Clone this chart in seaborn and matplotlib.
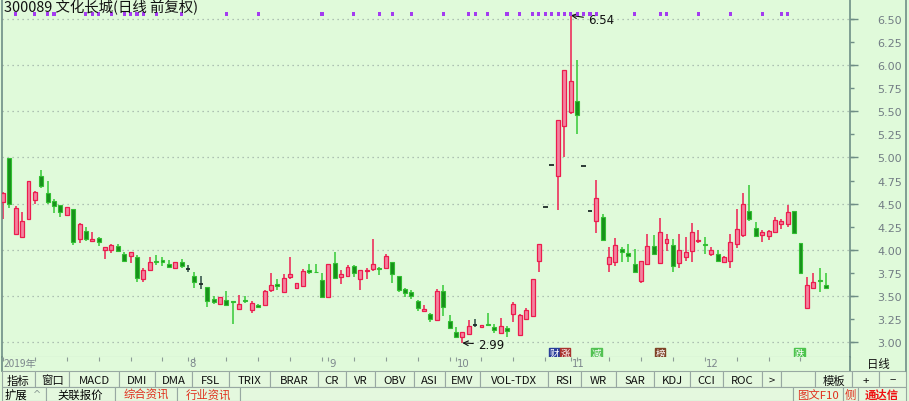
import numpy as np
import pandas as pd
import matplotlib
matplotlib.use("Agg")
import matplotlib.pyplot as plt
import seaborn as sns
from matplotlib.patches import Rectangle
import warnings
warnings.filterwarnings("ignore")

# ── Global Style ─────────────────────────────────────────────
sns.set_theme(style="white")
plt.rcParams["font.family"] = ["Noto Sans CJK SC", "DejaVu Sans"]
plt.rcParams["axes.unicode_minus"] = False

# ── Data (300089 daily, forward adjusted) ────────────────────
opens = [4.52, 4.99, 4.17, 4.14, 4.33, 4.54, 4.80, 4.62, 4.53, 4.48,
         4.38, 4.44, 4.12, 4.20, 4.10, 4.13, 4.00, 4.00, 4.04, 3.955,
         3.93, 3.925, 3.68, 3.785, 3.88, 3.89, 3.85, 3.80, 3.865, 3.79,
         3.72, 3.63, 3.595, 3.47, 3.41, 3.46, 3.44, 3.36, 3.46, 3.35,
         3.40, 3.405, 3.56, 3.63, 3.545, 3.71, 3.59, 3.61, 3.785, 3.76,
         3.67, 3.49, 3.855, 3.71, 3.72, 3.82, 3.68, 3.765, 3.79, 3.80,
         3.80, 3.865, 3.72, 3.575, 3.54, 3.44, 3.34, 3.305, 3.24, 3.55,
         3.23, 3.105, 3.05, 3.085, 3.18, 3.165, 3.195, 3.165, 3.10, 3.15,
         3.305, 3.075, 3.25, 3.285, 3.88, 4.46, 4.92, 4.80, 5.34, 5.49,
         5.61, 4.91, 4.42, 4.31, 4.35, 3.85, 3.865, 4.01, 3.97, 3.85,
         3.66, 3.85, 4.04, 3.855, 4.07, 4.05, 3.855, 3.92, 3.99, 4.10,
         4.06, 3.955, 3.955, 3.87, 3.875, 4.06, 4.16, 4.42, 4.24, 4.16,
         4.145, 4.19, 4.28, 4.275, 4.42, 4.07, 3.365, 3.59, 3.675, 3.62]

highs = [4.63, 4.99, 4.47, 4.41, 4.75, 4.64, 4.86, 4.74, 4.55, 4.49,
         4.46, 4.44, 4.29, 4.25, 4.19, 4.14, 4.03, 4.06, 4.06, 3.975,
         3.98, 3.94, 3.80, 3.92, 3.94, 3.92, 3.89, 3.87, 3.90, 3.83,
         3.755, 3.72, 3.60, 3.50, 3.49, 3.55, 3.44, 3.51, 3.50, 3.44,
         3.41, 3.56, 3.745, 3.68, 3.74, 3.92, 3.64, 3.79, 3.845, 3.845,
         3.745, 3.85, 3.98, 3.78, 3.84, 3.835, 3.78, 3.80, 4.12, 3.815,
         3.95, 3.87, 3.72, 3.59, 3.56, 3.455, 3.40, 3.32, 3.57, 3.62,
         3.29, 3.165, 3.11, 3.24, 3.245, 3.19, 3.31, 3.20, 3.26, 3.17,
         3.43, 3.30, 3.37, 3.68, 4.06, 4.46, 4.92, 5.41, 5.95, 6.54,
         6.06, 4.91, 4.42, 4.755, 4.39, 4.03, 4.13, 4.035, 4.06, 4.01,
         3.88, 4.17, 4.16, 4.34, 4.17, 4.12, 4.17, 4.135, 4.29, 4.21,
         4.135, 4.03, 4.00, 3.93, 4.17, 4.44, 4.62, 4.70, 4.30, 4.21,
         4.215, 4.36, 4.33, 4.48, 4.42, 4.07, 3.70, 3.745, 3.80, 3.745]

lows = [4.33, 4.45, 4.17, 4.14, 4.33, 4.50, 4.67, 4.50, 4.40, 4.35,
        4.37, 4.05, 4.07, 4.09, 4.08, 4.04, 3.90, 3.97, 3.98, 3.87,
        3.86, 3.655, 3.65, 3.775, 3.84, 3.82, 3.80, 3.79, 3.80, 3.757,
        3.59, 3.575, 3.38, 3.41, 3.40, 3.39, 3.20, 3.35, 3.42, 3.32,
        3.37, 3.40, 3.54, 3.565, 3.54, 3.68, 3.58, 3.60, 3.74, 3.75,
        3.485, 3.475, 3.68, 3.63, 3.71, 3.70, 3.565, 3.68, 3.775, 3.73,
        3.79, 3.64, 3.54, 3.485, 3.47, 3.34, 3.33, 3.22, 3.23, 3.28,
        3.15, 3.05, 2.99, 3.075, 3.16, 3.16, 3.17, 3.10, 3.10, 3.06,
        3.215, 3.075, 3.235, 3.285, 3.755, 4.46, 4.92, 4.43, 5.00, 5.47,
        5.255, 4.91, 4.42, 4.18, 4.10, 3.755, 3.82, 3.865, 3.865, 3.755,
        3.64, 3.83, 3.94, 3.845, 3.99, 3.76, 3.80, 3.875, 3.87, 4.07,
        3.955, 3.93, 3.87, 3.86, 3.80, 4.02, 4.135, 4.315, 4.145, 4.08,
        4.11, 4.18, 4.23, 4.25, 4.18, 3.75, 3.365, 3.58, 3.545, 3.575]

closes = [4.62, 4.50, 4.45, 4.31, 4.74, 4.63, 4.69, 4.52, 4.47, 4.41,
          4.46, 4.08, 4.28, 4.12, 4.12, 4.08, 4.03, 4.05, 3.99, 3.88,
          3.975, 3.69, 3.78, 3.865, 3.865, 3.87, 3.81, 3.865, 3.82, 3.79,
          3.655, 3.63, 3.44, 3.43, 3.485, 3.40, 3.43, 3.415, 3.44, 3.42,
          3.385, 3.55, 3.62, 3.605, 3.69, 3.735, 3.635, 3.767, 3.755, 3.755,
          3.49, 3.845, 3.69, 3.735, 3.81, 3.745, 3.78, 3.785, 3.845, 3.79,
          3.935, 3.74, 3.565, 3.53, 3.50, 3.37, 3.36, 3.245, 3.555, 3.38,
          3.155, 3.06, 3.105, 3.17, 3.18, 3.18, 3.185, 3.13, 3.17, 3.125,
          3.41, 3.29, 3.35, 3.68, 4.06, 4.46, 4.92, 5.41, 5.95, 5.83,
          5.46, 4.91, 4.42, 4.56, 4.11, 3.92, 4.05, 3.98, 3.93, 3.76,
          3.88, 4.04, 3.955, 4.19, 4.12, 3.82, 4.00, 3.98, 4.19, 4.11,
          4.05, 4.00, 3.88, 3.92, 4.08, 4.23, 4.50, 4.33, 4.15, 4.19,
          4.205, 4.325, 4.31, 4.41, 4.18, 3.75, 3.62, 3.655, 3.665, 3.59]

# month labels and the bar index where each month starts
month_labels = ["2019年", "8", "9", "10", "11", "12"]
month_starts = [0, 29, 51, 71, 89, 110]

# right axis price labels and dotted grid levels
price_ticks = [3.00, 3.25, 3.50, 3.75, 4.00, 4.25, 4.50, 4.75,
               5.00, 5.25, 5.50, 5.75, 6.00, 6.25, 6.50]
grid_levels = [3.00, 3.50, 4.00, 4.50, 5.00, 5.50, 6.00, 6.50]

# purple info markers along the top
info_days = [2, 5, 7, 8, 13, 14, 15, 17, 19, 20, 21, 22, 24, 28, 35, 40,
             50, 55, 59, 61, 64, 69, 73, 74, 76, 79, 81, 83, 84, 85, 86,
             87, 88, 89, 90, 91, 92, 93, 99, 103, 104, 109, 114, 119, 122, 123]

# event tags under the candles
event_days = [86.4, 88.1, 93.0, 103.0, 124.8]
event_text = ["财", "涨", "减", "榜", "跌"]
event_color = ["#2A3E9A", "#A8322E", "#52C252", "#7E4326", "#4CC44C"]

# toolbars
row1_labels = ["指标", "窗口", "MACD", "DMI", "DMA", "FSL", "TRIX", "BRAR", "CR",
               "VR", "OBV", "ASI", "EMV", "VOL-TDX", "RSI", "WR", "SAR", "KDJ",
               "CCI", "ROC", ">", "", "模板", "+", "−"]
row1_edges = [2, 35, 69, 119, 155, 192, 229, 270, 318, 346, 375, 414, 445,
              480, 548, 581, 616, 654, 690, 723, 762, 781, 815, 852, 879, 906]
row2_labels = ["扩展", "关联报价", "综合资讯", "行业资讯", "", "图文F10", "侧", "通达信"]
row2_edges = [2, 46, 115, 177, 240, 793, 843, 858, 906]
row2_colors = ["black", "black", "#E0301E", "#E0301E", "black", "#E0301E",
               "#E0301E", "#F01010"]

df = pd.DataFrame({"day": np.arange(len(opens)), "open": opens,
                   "high": highs, "low": lows, "close": closes})
df["kind"] = np.where(df["close"] > df["open"], "up",
                      np.where(df["close"] < df["open"], "down", "flat"))

# ── Figure ───────────────────────────────────────────────────
W, H = 909, 402
BG = "#E0FADA"
LINE = "#6F8E86"
XLIM = (-0.157, 132.76)
fig = plt.figure(figsize=(W / 100, H / 100), dpi=100, facecolor=BG)


def fx(x):
    return x / W


def fy(y):
    return 1 - y / H


ax = fig.add_axes([fx(2), fy(358), (850 - 2) / W, 358 / H])
ax.set_facecolor(BG)
ax.set_xlim(*XLIM)
ax.set_ylim(2.838, 6.717)

# dotted grid
for lv in grid_levels:
    ax.axhline(lv, color="#9DAFA6", lw=0.9, ls=(0, (1, 3)), zorder=1)

# wicks
wick_col = {"up": "#EE2052", "down": "#35C935", "flat": "#2E4A44"}
for k, g in df.groupby("kind"):
    ax.vlines(g["day"], g["low"], g["high"], color=wick_col[k], lw=1.1, zorder=2)

# bodies
up = df[df["kind"] == "up"]
ax.bar(up["day"], up["close"] - up["open"], bottom=up["open"], width=0.62,
       facecolor="#F3829F", edgecolor="#EC1C4E", linewidth=0.9, zorder=3)
dn = df[df["kind"] == "down"]
ax.bar(dn["day"], dn["open"] - dn["close"], bottom=dn["close"], width=0.62,
       facecolor="#18901B", edgecolor="#32BF32", linewidth=0.8, zorder=3)
fl = df[df["kind"] == "flat"]
ax.hlines(fl["close"], fl["day"] - 0.35, fl["day"] + 0.35, color="#1E2A28",
          lw=1.3, zorder=3)

# info markers
sns.scatterplot(x=info_days, y=[6.554] * len(info_days), ax=ax, marker="s",
                s=5, color="#A43CF0", edgecolor="none", zorder=4, legend=False)

# high / low annotations
hi_i = int(np.argmax(highs))
lo_i = int(np.argmin(lows))
ax.annotate(f"{highs[hi_i]:.2f}", xy=(hi_i, highs[hi_i]), xytext=(hi_i + 2.7, 6.49),
            fontsize=8.5, color="#111111", va="center", ha="left",
            family=["DejaVu Sans"],
            arrowprops=dict(arrowstyle="->", color="#111111", lw=0.8,
                            shrinkA=1, shrinkB=0))
ax.annotate(f"{lows[lo_i]:.2f}", xy=(lo_i, lows[lo_i]), xytext=(lo_i + 2.45, 2.975),
            fontsize=8.5, color="#111111", va="center", ha="left",
            family=["DejaVu Sans"],
            arrowprops=dict(arrowstyle="->", color="#111111", lw=0.8,
                            shrinkA=1, shrinkB=0))

# event tags
for d, t, c in zip(event_days, event_text, event_color):
    ax.text(d, 2.88, t, fontsize=6.8, color="white", ha="center", va="center",
            bbox=dict(boxstyle="square,pad=0.06", facecolor=c, edgecolor=c))

# right price axis
ax.yaxis.tick_right()
ax.set_yticks(price_ticks)
ax.set_yticklabels([f"{p:.2f}" for p in price_ticks])
ax.yaxis.remove_overlapping_locs = False
ax.set_yticks(grid_levels, minor=True)
ax.tick_params(axis="y", which="major", right=True, length=3, width=1,
               color=LINE, labelcolor="#727C84", labelsize=8, pad=16.5)
ax.tick_params(axis="y", which="minor", right=True, length=6, width=1, color=LINE)
for lab in ax.get_yticklabels():
    lab.set_family(["DejaVu Sans"])
ax.set_xticks([])
for s in ["left", "right"]:
    ax.spines[s].set_color(LINE)
    ax.spines[s].set_linewidth(1.2)
ax.spines["top"].set_visible(False)
ax.spines["bottom"].set_color("#A7BBB3")
ax.spines["bottom"].set_linewidth(0.8)

# title
fig.text(fx(4), fy(7.5), "300089 文化长城(日线 前复权)", fontsize=10.4,
         color="#111111", ha="left", va="center")

# ── Date row ─────────────────────────────────────────────────
axd = fig.add_axes([fx(2), fy(372), (850 - 2) / W, 14 / H])
axd.set_facecolor(BG)
axd.set_xlim(*XLIM)
axd.set_yticks([])
axd.set_xticks(month_starts, labels=[""] * len(month_starts))
axd.set_xticks(np.arange(0, len(opens), 5), minor=True)
axd.tick_params(axis="x", which="both", bottom=False, top=True, direction="in",
                length=3, width=0.8, color="#8C9C96", labelbottom=False,
                labeltop=False)
for lab, d in zip(month_labels, month_starts):
    fam = ["Noto Sans CJK SC"] if "年" in lab else ["DejaVu Sans"]
    axd.text(d + 0.15, 0.55, lab, transform=axd.get_xaxis_transform(),
             fontsize=7.3, color="#7C868C", ha="left", va="center", family=fam)
for s in axd.spines.values():
    s.set_visible(False)
axd.spines["left"].set_visible(True)
axd.spines["left"].set_color(LINE)
axd.spines["right"].set_visible(True)
axd.spines["right"].set_color(LINE)
fig.text(fx(878), fy(365), "日线", fontsize=8.2, color="#111111",
         ha="center", va="center")
fig.add_artist(plt.Line2D([fx(906), fx(906)], [fy(0), fy(372)], color=LINE, lw=1.2))

# ── Toolbars ─────────────────────────────────────────────────
for lab, x0, x1 in zip(row1_labels, row1_edges[:-1], row1_edges[1:]):
    fig.add_artist(Rectangle((fx(x0), fy(388)), (x1 - x0) / W, 16 / H,
                             facecolor="#E4F8DE", edgecolor="#98A8A2", lw=0.8))
    fig.text(fx((x0 + x1) / 2), fy(381), lab, fontsize=8.2, color="#111111",
             ha="center", va="center")
for lab, c, x0, x1 in zip(row2_labels, row2_colors, row2_edges[:-1], row2_edges[1:]):
    fig.add_artist(Rectangle((fx(x0), fy(402)), (x1 - x0) / W, 14 / H,
                             facecolor="#E4F8DE", edgecolor="#98A8A2", lw=0.8))
    xc = 16 if lab == "扩展" else (x0 + x1) / 2
    fig.text(fx(xc), fy(395.5), lab, fontsize=8.2, color=c,
             ha="center", va="center",
             fontweight="bold" if lab == "通达信" else "normal")
fig.text(fx(37), fy(395.5), "^", fontsize=7, color="#8A9A94", ha="center",
         va="center", family=["DejaVu Sans"])

plt.savefig("out.png", dpi=100, facecolor=BG)
